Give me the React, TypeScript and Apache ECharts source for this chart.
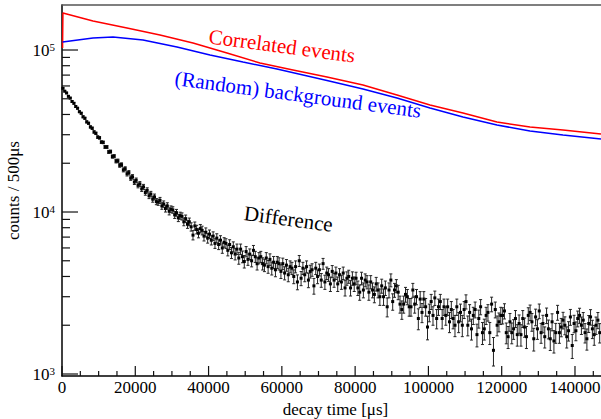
import React, { useEffect, useRef } from "react";
import * as echarts from "echarts";

const FONT = "Liberation Serif";

const X_MAX = 147100;
const Y_MIN = 972;
const Y_MAX = 189600;

// Correlated events (red histogram line)
const correlatedX = [150, 250, 8460, 17740, 26740, 35750, 45030, 54030, 63040, 72320, 82140, 91420, 100430, 109430, 118710, 127720, 136720, 147100];
const correlatedY = [103000, 169200, 151000, 136700, 123800, 110500, 95800, 83100, 75300, 68100, 60800, 52760, 45760, 40840, 35940, 33460, 32080, 30300];

// (Random) background events (blue histogram line)
const backgroundX = [150, 8460, 13920, 22100, 31380, 40390, 49390, 58670, 72320, 82140, 91420, 100430, 109430, 118710, 127720, 136720, 147100];
const backgroundY = [112000, 118600, 120300, 115300, 104300, 93100, 84300, 76350, 64840, 57440, 50540, 43850, 38590, 34430, 31620, 29880, 28220];

// Difference, one value per 500 µs bin (bin centres 250, 750, ...)
const BIN_WIDTH = 500;
const differenceValues = [
  58040, 55700, 54300, 51800, 50500, 48100, 46900, 44800, 43700, 41600,
  40700, 38700, 37900, 36000, 35300, 33500, 32900, 31200, 30600, 29000,
  28700, 27000, 26900, 25200, 25200, 23500, 23600, 22000, 22100, 20600,
  20700, 19400, 19600, 18200, 18500, 17200, 17500, 16200, 16500, 15300,
  15700, 14600, 14900, 13900, 14300, 13200, 13600, 12600, 12900, 12000,
  12400, 11600, 11500, 11800, 10900, 11200, 10500, 10900, 10100, 10400,
  10300, 9600, 9900, 9200, 9500, 9400, 8700, 9100, 8400, 8700,
  8100, 7200, 8200, 7800, 7400, 7900, 7700, 7100, 7500, 6900,
  7300, 6700, 7100, 6400, 6900, 6300, 6700, 6000, 6500, 6400,
  5800, 6300, 5600, 6100, 5500, 5900, 5200, 5900, 5300, 4950,
  5700, 5100, 5500, 5000, 5800, 5300, 4800, 5200, 5300, 4800,
  4700, 5200, 4600, 5100, 4500, 4900, 4400, 4900, 4800, 4300,
  4800, 4200, 4700, 4100, 4600, 4500, 4000, 4600, 3700, 5000,
  3900, 4500, 4100, 4600, 3800, 4300, 4400, 3500, 4500, 4000,
  4400, 3800, 4800, 3700, 4200, 4100, 3600, 4300, 3800, 4200,
  3600, 4100, 3700, 4200, 3400, 3900, 4000, 3400, 3900, 3600,
  3900, 3400, 3200, 3900, 3300, 3800, 3700, 3200, 3700, 3300,
  3100, 3600, 3300, 3000, 3500, 3000, 3400, 2600, 3300, 3800,
  2800, 3300, 3500, 3200, 2700, 2500, 2700, 3100, 3000, 2600,
  2600, 3300, 2700, 3000, 2200, 2900, 2400, 2900, 2600, 1950,
  2400, 2800, 2300, 2950, 2200, 2600, 2800, 2200, 2600, 2300,
  2600, 2100, 2500, 2200, 2000, 2600, 2100, 2400, 2000, 2500,
  2800, 2000, 2400, 1900, 2300, 2500, 1750, 2200, 2600, 1800,
  1900, 2300, 2400, 1800, 2700, 1400, 2500, 2000, 2100, 2300,
  2300, 2450, 1800, 1700, 2100, 1800, 1900, 2200, 1750, 2050,
  1750, 2200, 1950, 1700, 2300, 2400, 2100, 1650, 2250, 1900,
  2450, 1800, 2050, 1700, 2300, 1900, 1650, 2100, 1600, 1800,
  2400, 1800, 1950, 2150, 2000, 1700, 1850, 2250, 1500, 2050,
  1850, 2200, 2300, 2000, 2150, 1800, 1650, 2050, 2250, 1900,
  1750, 2000, 2150, 1800,
];
// statistical error of the difference, per 10000 µs segment
const errorBySegment = [530, 515, 505, 475, 440, 415, 390, 370, 348, 325, 300, 280, 264, 253, 246];

const xLabelStep = 20000;
const xMinorStep = 5000;
const yDecades = [1000, 10000, 100000];

const annotations = [
  { text: "Correlated events", color: "#ff0000", x: 282, y: 46 },
  { text: "(Random) background events", color: "#0000ff", x: 298, y: 94.5 },
  { text: "Difference", color: "#000000", x: 288.5, y: 219 },
];

export default function App() {
  const ref = useRef<HTMLDivElement>(null);

  useEffect(() => {
    if (!ref.current) return;
    const chart = echarts.init(ref.current, undefined, { renderer: "svg" });

    const corrData = correlatedX.map((x, i) => [x, correlatedY[i]]);
    const bgData = backgroundX.map((x, i) => [x, backgroundY[i]]);
    const diffData = differenceValues.map((v, i) => {
      const x = BIN_WIDTH / 2 + BIN_WIDTH * i;
      const e = errorBySegment[Math.min(errorBySegment.length - 1, Math.floor(x / 10000))];
      return [x, v, e];
    });

    // tick marks: kind 0 = x major, 1 = x minor, 2 = y major, 3 = y minor
    const tickData: number[][] = [];
    for (let x = 0; x <= X_MAX; x += xMinorStep) {
      tickData.push([x, Y_MIN, x % xLabelStep === 0 ? 0 : 1]);
    }
    yDecades.forEach((d) => {
      tickData.push([0, d, 2]);
      for (let m = 2; m <= 9; m++) {
        if (m * d <= Y_MAX) tickData.push([0, m * d, 3]);
      }
    });

    const option: any = {
      animation: false,
      backgroundColor: "#ffffff",
      textStyle: { fontFamily: FONT },
      grid: { left: 62, right: 0, top: 5, bottom: 43, outerBoundsMode: "none", containLabel: false },
      xAxis: [
        {
          type: "value",
          min: 0,
          max: X_MAX,
          interval: xLabelStep,
          axisLine: { show: true, onZero: false, lineStyle: { color: "#000", width: 1.5 } },
          axisTick: { show: false },
          minorTick: { show: false },
          splitLine: { show: false },
          axisLabel: {
            color: "#000",
            fontSize: 17,
            fontFamily: FONT,
            margin: 3,
            showMaxLabel: false,
            formatter: (v: number) => (Math.abs(v % xLabelStep) < 1e-6 ? String(v) : ""),
          },
          name: "decay time [\u03bcs]",
          nameLocation: "middle",
          nameGap: 19,
          nameTextStyle: { color: "#000", fontSize: 17, fontFamily: FONT, padding: [0, 0, 0, 8] },
        },
        {
          type: "value",
          position: "top",
          min: 0,
          max: X_MAX,
          axisLine: { show: true, onZero: false, lineStyle: { color: "#555", width: 1.5 } },
          axisTick: { show: false },
          axisLabel: { show: false },
          splitLine: { show: false },
        },
      ],
      yAxis: {
        type: "log",
        logBase: 10,
        min: Y_MIN,
        max: Y_MAX,
        axisLine: { show: true, onZero: false, lineStyle: { color: "#000", width: 1.5 } },
        axisTick: { show: false },
        minorTick: { show: false },
        splitLine: { show: false },
        axisLabel: {
          margin: 7,
          color: "#000",
          fontFamily: FONT,
          formatter: (v: number) => {
            const e = Math.round(Math.log10(v));
            if (Math.abs(Math.log10(v) - e) > 1e-6) return "";
            return "{b|10}{s|" + e + "}";
          },
          rich: {
            b: { fontSize: 17, lineHeight: 17, fontFamily: FONT, color: "#000", verticalAlign: "bottom" },
            s: { fontSize: 11, lineHeight: 11, fontFamily: FONT, color: "#000", verticalAlign: "top" },
          },
        },
        name: "counts / 500\u03bcs",
        nameLocation: "middle",
        nameGap: 33,
        nameRotate: 90,
        nameTextStyle: { color: "#000", fontSize: 17, fontFamily: FONT },
      },
      series: [
        {
          name: "Correlated events",
          type: "line",
          data: corrData,
          showSymbol: false,
          symbol: "none",
          lineStyle: { color: "#ff0000", width: 1.5 },
          z: 3,
        },
        {
          name: "(Random) background events",
          type: "line",
          data: bgData,
          showSymbol: false,
          symbol: "none",
          lineStyle: { color: "#0000ff", width: 1.5 },
          z: 3,
        },
        {
          name: "Difference",
          type: "custom",
          data: diffData,
          encode: { x: 0, y: 1 },
          z: 4,
          renderItem: (params: any, api: any) => {
            const x = api.value(0);
            const v = api.value(1);
            const e = api.value(2);
            const c = api.coord([x, v]);
            const hi = api.coord([x, v + e]);
            const lo = api.coord([x, v - e]);
            const cap = 1.5;
            const st = { stroke: "#222", lineWidth: 1 };
            return {
              type: "group",
              children: [
                { type: "line", shape: { x1: c[0], y1: hi[1], x2: c[0], y2: lo[1] }, style: st },
                { type: "line", shape: { x1: c[0] - cap, y1: hi[1], x2: c[0] + cap, y2: hi[1] }, style: st },
                { type: "line", shape: { x1: c[0] - cap, y1: lo[1], x2: c[0] + cap, y2: lo[1] }, style: st },
                { type: "rect", shape: { x: c[0] - 1.5, y: c[1] - 1.5, width: 3, height: 3 }, style: { fill: "#000" } },
              ],
            };
          },
        },
        {
          name: "ticks",
          type: "custom",
          data: tickData,
          encode: { x: 0, y: 1 },
          silent: true,
          clip: false,
          z: 5,
          renderItem: (params: any, api: any) => {
            const kind = api.value(2);
            const p = api.coord([api.value(0), api.value(1)]);
            let shape;
            if (kind === 0) shape = { x1: p[0], y1: p[1], x2: p[0], y2: p[1] - 10 };
            else if (kind === 1) shape = { x1: p[0], y1: p[1], x2: p[0], y2: p[1] - 5 };
            else if (kind === 2) shape = { x1: p[0], y1: p[1], x2: p[0] + 16, y2: p[1] };
            else shape = { x1: p[0], y1: p[1], x2: p[0] + 8, y2: p[1] };
            return { type: "line", shape, style: { stroke: "#111", lineWidth: 1.2 } };
          },
        },
      ],
      graphic: annotations.map((a) => ({
        type: "text",
        x: a.x,
        y: a.y,
        rotation: -0.1326,
        style: {
          text: a.text,
          fill: a.color,
          fontSize: 21,
          fontFamily: FONT,
          align: "center",
          verticalAlign: "middle",
        },
        z: 10,
      })),
    };

    chart.setOption(option);
    return () => chart.dispose();
  }, []);

  return (
    <div
      ref={ref}
      style={{ position: "fixed", left: 0, top: 0, width: 601, height: 419, background: "#fff" }}
    />
  );
}
